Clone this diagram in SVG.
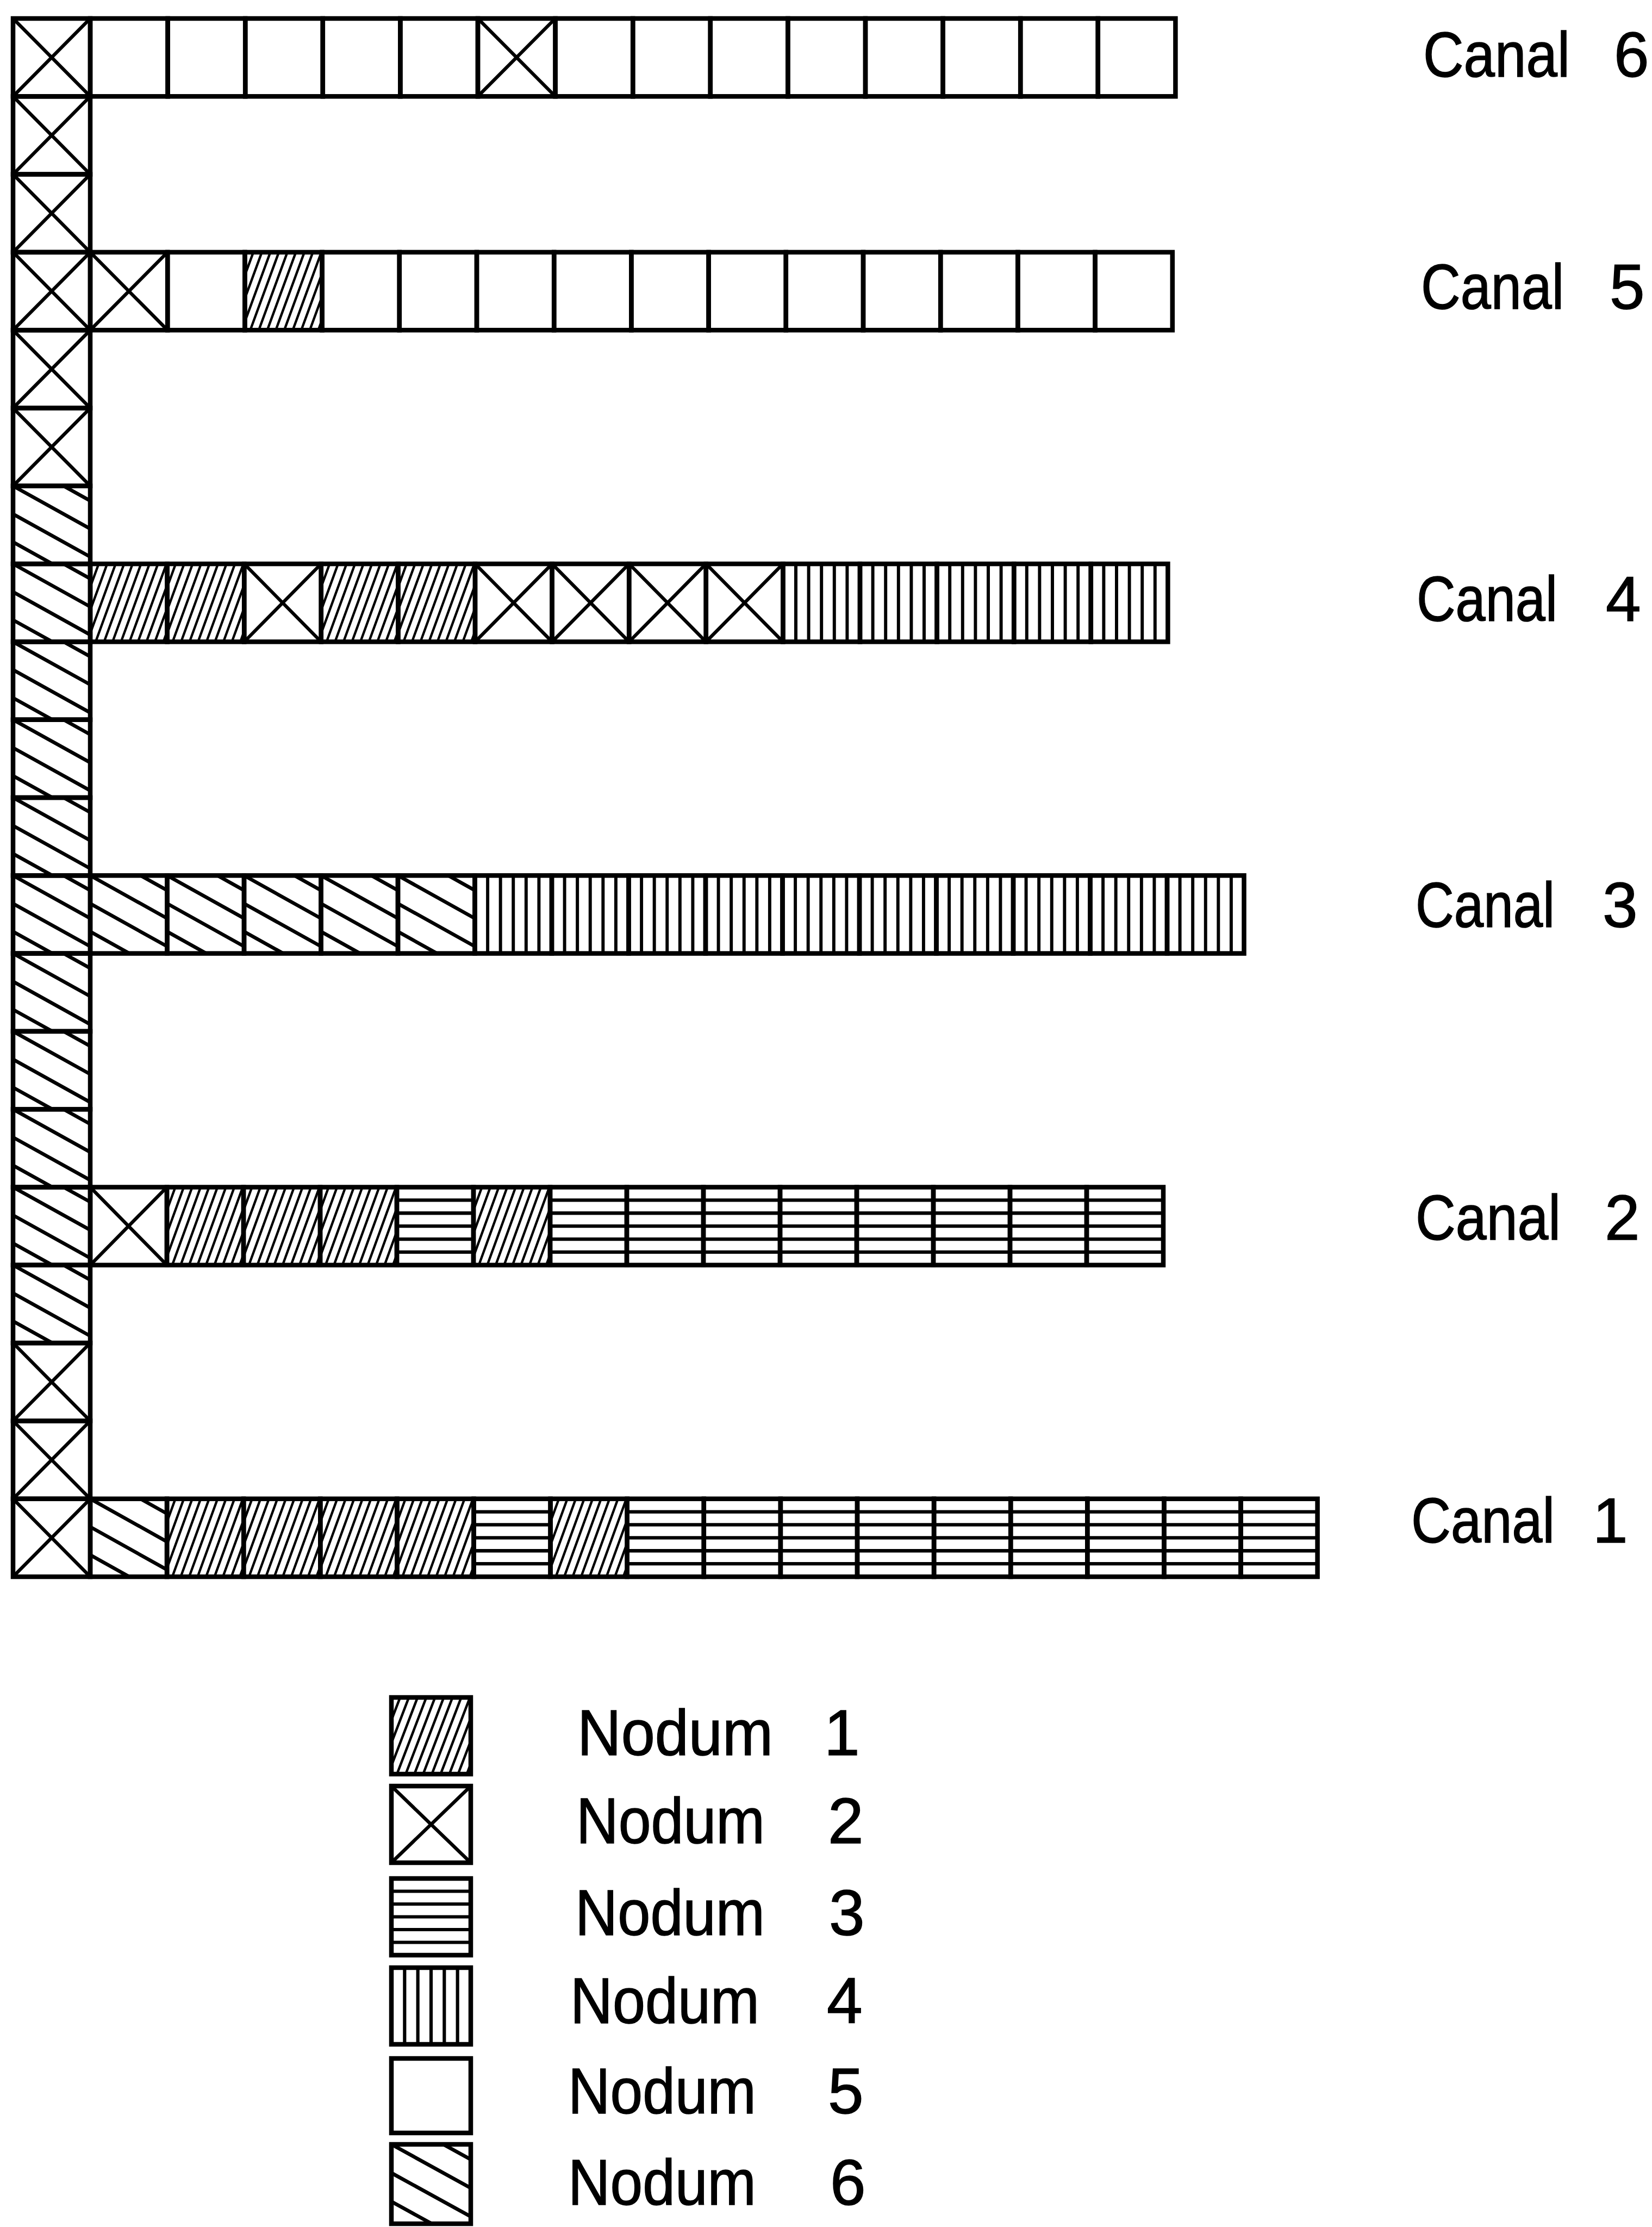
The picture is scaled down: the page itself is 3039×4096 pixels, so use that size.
<svg xmlns="http://www.w3.org/2000/svg" width="3039" height="4096" viewBox="0 0 3039 4096">
<style>
.c{fill:none;stroke:#000;stroke-width:8.5}
.hl{fill:none;stroke:#000;stroke-linecap:butt}
text{font-family:"Liberation Sans",Arial,sans-serif;fill:#000;stroke:#000;stroke-width:1.5}
.lab{font-size:116px}
.leg{font-size:118px}
</style>
<defs>
<symbol id="n1" viewBox="0 0 100 100" preserveAspectRatio="none"><path class="hl" stroke-width="3.1" d="M-37 100L0 0M-26 100L11 0M-15 100L22 0M-4 100L33 0M7 100L44 0M18 100L55 0M29 100L66 0M40 100L77 0M51 100L88 0M62 100L99 0M73 100L110 0M84 100L121 0M95 100L132 0"/></symbol>
<symbol id="n2" viewBox="0 0 100 100" preserveAspectRatio="none"><path class="hl" stroke-width="4.4" d="M0 0L100 100M100 0L0 100"/></symbol>
<symbol id="n3" viewBox="0 0 100 100" preserveAspectRatio="none"><path class="hl" stroke-width="4.4" d="M0 16.67H100M0 33.33H100M0 50H100M0 66.67H100M0 83.33H100"/></symbol>
<symbol id="n4" viewBox="0 0 100 100" preserveAspectRatio="none"><path class="hl" stroke-width="4.2" d="M16.67 0V100M33.33 0V100M50 0V100M66.67 0V100M83.33 0V100"/></symbol>
<symbol id="n6" viewBox="0 0 100 100" preserveAspectRatio="none"><path class="hl" stroke-width="4.6" d="M0 -72L100 -17M0 -36L100 19M0 0L100 55M0 36L100 91M0 72L100 127"/></symbol>
</defs>
<rect width="3039" height="4096" fill="#fff"/>

<g id="column">
<use href="#n2" x="24" y="34" width="142" height="143.3"/>
<use href="#n2" x="24" y="177.3" width="142" height="143.3"/>
<use href="#n2" x="24" y="320.6" width="142" height="143.3"/>
<use href="#n2" x="24" y="463.9" width="142" height="143.3"/>
<use href="#n2" x="24" y="607.2" width="142" height="143.3"/>
<use href="#n2" x="24" y="750.5" width="142" height="143.3"/>
<use href="#n6" x="24" y="893.8" width="142" height="143.3"/>
<use href="#n6" x="24" y="1037.1" width="142" height="143.3"/>
<use href="#n6" x="24" y="1180.4" width="142" height="143.3"/>
<use href="#n6" x="24" y="1323.7" width="142" height="143.3"/>
<use href="#n6" x="24" y="1467" width="142" height="143.3"/>
<use href="#n6" x="24" y="1610.3" width="142" height="143.3"/>
<use href="#n6" x="24" y="1753.6" width="142" height="143.3"/>
<use href="#n6" x="24" y="1896.9" width="142" height="143.3"/>
<use href="#n6" x="24" y="2040.2" width="142" height="143.3"/>
<use href="#n6" x="24" y="2183.5" width="142" height="143.3"/>
<use href="#n6" x="24" y="2326.8" width="142" height="143.3"/>
<use href="#n2" x="24" y="2470.1" width="142" height="143.3"/>
<use href="#n2" x="24" y="2613.4" width="142" height="143.3"/>
<use href="#n2" x="24" y="2756.7" width="142" height="143.3"/>
<rect class="c" x="24" y="34" width="142" height="143.3"/>
<rect class="c" x="24" y="177.3" width="142" height="143.3"/>
<rect class="c" x="24" y="320.6" width="142" height="143.3"/>
<rect class="c" x="24" y="463.9" width="142" height="143.3"/>
<rect class="c" x="24" y="607.2" width="142" height="143.3"/>
<rect class="c" x="24" y="750.5" width="142" height="143.3"/>
<rect class="c" x="24" y="893.8" width="142" height="143.3"/>
<rect class="c" x="24" y="1037.1" width="142" height="143.3"/>
<rect class="c" x="24" y="1180.4" width="142" height="143.3"/>
<rect class="c" x="24" y="1323.7" width="142" height="143.3"/>
<rect class="c" x="24" y="1467" width="142" height="143.3"/>
<rect class="c" x="24" y="1610.3" width="142" height="143.3"/>
<rect class="c" x="24" y="1753.6" width="142" height="143.3"/>
<rect class="c" x="24" y="1896.9" width="142" height="143.3"/>
<rect class="c" x="24" y="2040.2" width="142" height="143.3"/>
<rect class="c" x="24" y="2183.5" width="142" height="143.3"/>
<rect class="c" x="24" y="2326.8" width="142" height="143.3"/>
<rect class="c" x="24" y="2470.1" width="142" height="143.3"/>
<rect class="c" x="24" y="2613.4" width="142" height="143.3"/>
<rect class="c" x="24" y="2756.7" width="142" height="143.3"/>
</g>

<g id="canal-6">
<use href="#n2" x="879" y="34" width="142.6" height="143.3"/>
<rect class="c" x="166" y="34" width="142.6" height="143.3"/>
<rect class="c" x="308.6" y="34" width="142.6" height="143.3"/>
<rect class="c" x="451.2" y="34" width="142.6" height="143.3"/>
<rect class="c" x="593.8" y="34" width="142.6" height="143.3"/>
<rect class="c" x="736.4" y="34" width="142.6" height="143.3"/>
<rect class="c" x="879" y="34" width="142.6" height="143.3"/>
<rect class="c" x="1021.6" y="34" width="142.6" height="143.3"/>
<rect class="c" x="1164.2" y="34" width="142.6" height="143.3"/>
<rect class="c" x="1306.8" y="34" width="142.6" height="143.3"/>
<rect class="c" x="1449.4" y="34" width="142.6" height="143.3"/>
<rect class="c" x="1592" y="34" width="142.6" height="143.3"/>
<rect class="c" x="1734.6" y="34" width="142.6" height="143.3"/>
<rect class="c" x="1877.2" y="34" width="142.6" height="143.3"/>
<rect class="c" x="2019.8" y="34" width="142.6" height="143.3"/>
<text class="lab" x="2618" y="141" textLength="270" lengthAdjust="spacingAndGlyphs">Canal</text>
<text class="lab" x="2969" y="141">6</text>
</g>

<g id="canal-5">
<use href="#n2" x="166" y="463.9" width="142.2" height="143.3"/>
<use href="#n1" x="450.4" y="463.9" width="142.2" height="143.3"/>
<rect class="c" x="166" y="463.9" width="142.2" height="143.3"/>
<rect class="c" x="308.2" y="463.9" width="142.2" height="143.3"/>
<rect class="c" x="450.4" y="463.9" width="142.2" height="143.3"/>
<rect class="c" x="592.6" y="463.9" width="142.2" height="143.3"/>
<rect class="c" x="734.8" y="463.9" width="142.2" height="143.3"/>
<rect class="c" x="877" y="463.9" width="142.2" height="143.3"/>
<rect class="c" x="1019.2" y="463.9" width="142.2" height="143.3"/>
<rect class="c" x="1161.4" y="463.9" width="142.2" height="143.3"/>
<rect class="c" x="1303.6" y="463.9" width="142.2" height="143.3"/>
<rect class="c" x="1445.8" y="463.9" width="142.2" height="143.3"/>
<rect class="c" x="1588" y="463.9" width="142.2" height="143.3"/>
<rect class="c" x="1730.2" y="463.9" width="142.2" height="143.3"/>
<rect class="c" x="1872.4" y="463.9" width="142.2" height="143.3"/>
<rect class="c" x="2014.6" y="463.9" width="142.2" height="143.3"/>
<text class="lab" x="2614" y="568" textLength="263" lengthAdjust="spacingAndGlyphs">Canal</text>
<text class="lab" x="2961" y="568">5</text>
</g>

<g id="canal-4">
<use href="#n1" x="166" y="1037.1" width="141.6" height="143.3"/>
<use href="#n1" x="307.6" y="1037.1" width="141.6" height="143.3"/>
<use href="#n2" x="449.2" y="1037.1" width="141.6" height="143.3"/>
<use href="#n1" x="590.8" y="1037.1" width="141.6" height="143.3"/>
<use href="#n1" x="732.4" y="1037.1" width="141.6" height="143.3"/>
<use href="#n2" x="874" y="1037.1" width="141.6" height="143.3"/>
<use href="#n2" x="1015.6" y="1037.1" width="141.6" height="143.3"/>
<use href="#n2" x="1157.2" y="1037.1" width="141.6" height="143.3"/>
<use href="#n2" x="1298.8" y="1037.1" width="141.6" height="143.3"/>
<use href="#n4" x="1440.4" y="1037.1" width="141.6" height="143.3"/>
<use href="#n4" x="1582" y="1037.1" width="141.6" height="143.3"/>
<use href="#n4" x="1723.6" y="1037.1" width="141.6" height="143.3"/>
<use href="#n4" x="1865.2" y="1037.1" width="141.6" height="143.3"/>
<use href="#n4" x="2006.8" y="1037.1" width="141.6" height="143.3"/>
<rect class="c" x="166" y="1037.1" width="141.6" height="143.3"/>
<rect class="c" x="307.6" y="1037.1" width="141.6" height="143.3"/>
<rect class="c" x="449.2" y="1037.1" width="141.6" height="143.3"/>
<rect class="c" x="590.8" y="1037.1" width="141.6" height="143.3"/>
<rect class="c" x="732.4" y="1037.1" width="141.6" height="143.3"/>
<rect class="c" x="874" y="1037.1" width="141.6" height="143.3"/>
<rect class="c" x="1015.6" y="1037.1" width="141.6" height="143.3"/>
<rect class="c" x="1157.2" y="1037.1" width="141.6" height="143.3"/>
<rect class="c" x="1298.8" y="1037.1" width="141.6" height="143.3"/>
<rect class="c" x="1440.4" y="1037.1" width="141.6" height="143.3"/>
<rect class="c" x="1582" y="1037.1" width="141.6" height="143.3"/>
<rect class="c" x="1723.6" y="1037.1" width="141.6" height="143.3"/>
<rect class="c" x="1865.2" y="1037.1" width="141.6" height="143.3"/>
<rect class="c" x="2006.8" y="1037.1" width="141.6" height="143.3"/>
<text class="lab" x="2606" y="1142" textLength="259" lengthAdjust="spacingAndGlyphs">Canal</text>
<text class="lab" x="2954" y="1142">4</text>
</g>

<g id="canal-3">
<use href="#n6" x="166" y="1610.3" width="141.5" height="143.3"/>
<use href="#n6" x="307.5" y="1610.3" width="141.5" height="143.3"/>
<use href="#n6" x="449" y="1610.3" width="141.5" height="143.3"/>
<use href="#n6" x="590.5" y="1610.3" width="141.5" height="143.3"/>
<use href="#n6" x="732" y="1610.3" width="141.5" height="143.3"/>
<use href="#n4" x="873.5" y="1610.3" width="141.5" height="143.3"/>
<use href="#n4" x="1015" y="1610.3" width="141.5" height="143.3"/>
<use href="#n4" x="1156.5" y="1610.3" width="141.5" height="143.3"/>
<use href="#n4" x="1298" y="1610.3" width="141.5" height="143.3"/>
<use href="#n4" x="1439.5" y="1610.3" width="141.5" height="143.3"/>
<use href="#n4" x="1581" y="1610.3" width="141.5" height="143.3"/>
<use href="#n4" x="1722.5" y="1610.3" width="141.5" height="143.3"/>
<use href="#n4" x="1864" y="1610.3" width="141.5" height="143.3"/>
<use href="#n4" x="2005.5" y="1610.3" width="141.5" height="143.3"/>
<use href="#n4" x="2147" y="1610.3" width="141.5" height="143.3"/>
<rect class="c" x="166" y="1610.3" width="141.5" height="143.3"/>
<rect class="c" x="307.5" y="1610.3" width="141.5" height="143.3"/>
<rect class="c" x="449" y="1610.3" width="141.5" height="143.3"/>
<rect class="c" x="590.5" y="1610.3" width="141.5" height="143.3"/>
<rect class="c" x="732" y="1610.3" width="141.5" height="143.3"/>
<rect class="c" x="873.5" y="1610.3" width="141.5" height="143.3"/>
<rect class="c" x="1015" y="1610.3" width="141.5" height="143.3"/>
<rect class="c" x="1156.5" y="1610.3" width="141.5" height="143.3"/>
<rect class="c" x="1298" y="1610.3" width="141.5" height="143.3"/>
<rect class="c" x="1439.5" y="1610.3" width="141.5" height="143.3"/>
<rect class="c" x="1581" y="1610.3" width="141.5" height="143.3"/>
<rect class="c" x="1722.5" y="1610.3" width="141.5" height="143.3"/>
<rect class="c" x="1864" y="1610.3" width="141.5" height="143.3"/>
<rect class="c" x="2005.5" y="1610.3" width="141.5" height="143.3"/>
<rect class="c" x="2147" y="1610.3" width="141.5" height="143.3"/>
<text class="lab" x="2604" y="1705" textLength="256" lengthAdjust="spacingAndGlyphs">Canal</text>
<text class="lab" x="2948" y="1705">3</text>
</g>

<g id="canal-2">
<use href="#n2" x="166" y="2183.5" width="141" height="143.3"/>
<use href="#n1" x="307" y="2183.5" width="141" height="143.3"/>
<use href="#n1" x="448" y="2183.5" width="141" height="143.3"/>
<use href="#n1" x="589" y="2183.5" width="141" height="143.3"/>
<use href="#n3" x="730" y="2183.5" width="141" height="143.3"/>
<use href="#n1" x="871" y="2183.5" width="141" height="143.3"/>
<use href="#n3" x="1012" y="2183.5" width="141" height="143.3"/>
<use href="#n3" x="1153" y="2183.5" width="141" height="143.3"/>
<use href="#n3" x="1294" y="2183.5" width="141" height="143.3"/>
<use href="#n3" x="1435" y="2183.5" width="141" height="143.3"/>
<use href="#n3" x="1576" y="2183.5" width="141" height="143.3"/>
<use href="#n3" x="1717" y="2183.5" width="141" height="143.3"/>
<use href="#n3" x="1858" y="2183.5" width="141" height="143.3"/>
<use href="#n3" x="1999" y="2183.5" width="141" height="143.3"/>
<rect class="c" x="166" y="2183.5" width="141" height="143.3"/>
<rect class="c" x="307" y="2183.5" width="141" height="143.3"/>
<rect class="c" x="448" y="2183.5" width="141" height="143.3"/>
<rect class="c" x="589" y="2183.5" width="141" height="143.3"/>
<rect class="c" x="730" y="2183.5" width="141" height="143.3"/>
<rect class="c" x="871" y="2183.5" width="141" height="143.3"/>
<rect class="c" x="1012" y="2183.5" width="141" height="143.3"/>
<rect class="c" x="1153" y="2183.5" width="141" height="143.3"/>
<rect class="c" x="1294" y="2183.5" width="141" height="143.3"/>
<rect class="c" x="1435" y="2183.5" width="141" height="143.3"/>
<rect class="c" x="1576" y="2183.5" width="141" height="143.3"/>
<rect class="c" x="1717" y="2183.5" width="141" height="143.3"/>
<rect class="c" x="1858" y="2183.5" width="141" height="143.3"/>
<rect class="c" x="1999" y="2183.5" width="141" height="143.3"/>
<text class="lab" x="2604" y="2280" textLength="267" lengthAdjust="spacingAndGlyphs">Canal</text>
<text class="lab" x="2952" y="2280">2</text>
</g>

<g id="canal-1">
<use href="#n6" x="166" y="2756.7" width="141.1" height="143.3"/>
<use href="#n1" x="307.1" y="2756.7" width="141.1" height="143.3"/>
<use href="#n1" x="448.2" y="2756.7" width="141.1" height="143.3"/>
<use href="#n1" x="589.3" y="2756.7" width="141.1" height="143.3"/>
<use href="#n1" x="730.4" y="2756.7" width="141.1" height="143.3"/>
<use href="#n3" x="871.5" y="2756.7" width="141.1" height="143.3"/>
<use href="#n1" x="1012.6" y="2756.7" width="141.1" height="143.3"/>
<use href="#n3" x="1153.7" y="2756.7" width="141.1" height="143.3"/>
<use href="#n3" x="1294.8" y="2756.7" width="141.1" height="143.3"/>
<use href="#n3" x="1435.9" y="2756.7" width="141.1" height="143.3"/>
<use href="#n3" x="1577" y="2756.7" width="141.1" height="143.3"/>
<use href="#n3" x="1718.1" y="2756.7" width="141.1" height="143.3"/>
<use href="#n3" x="1859.2" y="2756.7" width="141.1" height="143.3"/>
<use href="#n3" x="2000.3" y="2756.7" width="141.1" height="143.3"/>
<use href="#n3" x="2141.4" y="2756.7" width="141.1" height="143.3"/>
<use href="#n3" x="2282.5" y="2756.7" width="141.1" height="143.3"/>
<rect class="c" x="166" y="2756.7" width="141.1" height="143.3"/>
<rect class="c" x="307.1" y="2756.7" width="141.1" height="143.3"/>
<rect class="c" x="448.2" y="2756.7" width="141.1" height="143.3"/>
<rect class="c" x="589.3" y="2756.7" width="141.1" height="143.3"/>
<rect class="c" x="730.4" y="2756.7" width="141.1" height="143.3"/>
<rect class="c" x="871.5" y="2756.7" width="141.1" height="143.3"/>
<rect class="c" x="1012.6" y="2756.7" width="141.1" height="143.3"/>
<rect class="c" x="1153.7" y="2756.7" width="141.1" height="143.3"/>
<rect class="c" x="1294.8" y="2756.7" width="141.1" height="143.3"/>
<rect class="c" x="1435.9" y="2756.7" width="141.1" height="143.3"/>
<rect class="c" x="1577" y="2756.7" width="141.1" height="143.3"/>
<rect class="c" x="1718.1" y="2756.7" width="141.1" height="143.3"/>
<rect class="c" x="1859.2" y="2756.7" width="141.1" height="143.3"/>
<rect class="c" x="2000.3" y="2756.7" width="141.1" height="143.3"/>
<rect class="c" x="2141.4" y="2756.7" width="141.1" height="143.3"/>
<rect class="c" x="2282.5" y="2756.7" width="141.1" height="143.3"/>
<text class="lab" x="2596" y="2837" textLength="264" lengthAdjust="spacingAndGlyphs">Canal</text>
<text class="lab" x="2930" y="2837">1</text>
</g>

<g id="legend">
<g id="nodum-1">
<use href="#n1" x="720" y="3122" width="146" height="141"/>
<rect class="c" x="720" y="3122" width="146" height="141"/>
<text class="leg" x="1062" y="3228" textLength="360" lengthAdjust="spacingAndGlyphs">Nodum</text>
<text class="leg" x="1516" y="3228">1</text>
</g>
<g id="nodum-2">
<use href="#n2" x="720" y="3285" width="146" height="141"/>
<rect class="c" x="720" y="3285" width="146" height="141"/>
<text class="leg" x="1060" y="3390" textLength="347" lengthAdjust="spacingAndGlyphs">Nodum</text>
<text class="leg" x="1523" y="3390">2</text>
</g>
<g id="nodum-3">
<use href="#n3" x="720" y="3455" width="146" height="141"/>
<rect class="c" x="720" y="3455" width="146" height="141"/>
<text class="leg" x="1058" y="3559" textLength="349" lengthAdjust="spacingAndGlyphs">Nodum</text>
<text class="leg" x="1525" y="3559">3</text>
</g>
<g id="nodum-4">
<use href="#n4" x="720" y="3619" width="146" height="141"/>
<rect class="c" x="720" y="3619" width="146" height="141"/>
<text class="leg" x="1049" y="3721" textLength="348" lengthAdjust="spacingAndGlyphs">Nodum</text>
<text class="leg" x="1521" y="3721">4</text>
</g>
<g id="nodum-5">
<rect class="c" x="720" y="3786" width="146" height="137"/>
<text class="leg" x="1045" y="3887" textLength="346" lengthAdjust="spacingAndGlyphs">Nodum</text>
<text class="leg" x="1523" y="3887">5</text>
</g>
<g id="nodum-6">
<use href="#n6" x="720" y="3944" width="146" height="146"/>
<rect class="c" x="720" y="3944" width="146" height="146"/>
<text class="leg" x="1045" y="4055" textLength="346" lengthAdjust="spacingAndGlyphs">Nodum</text>
<text class="leg" x="1527" y="4055">6</text>
</g>
</g>
</svg>
